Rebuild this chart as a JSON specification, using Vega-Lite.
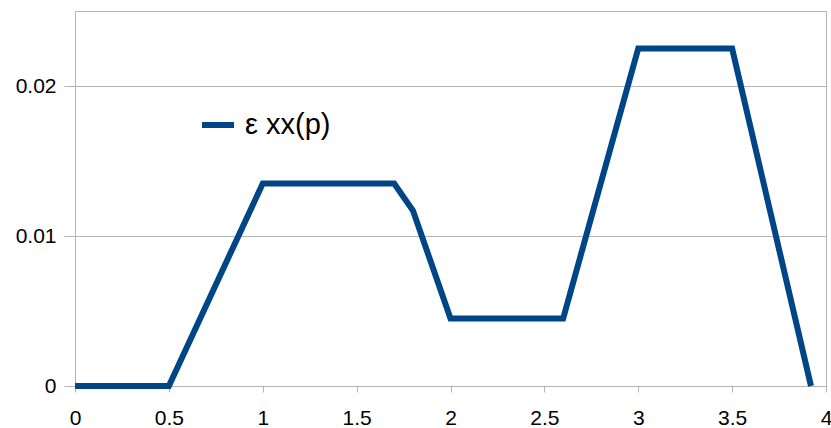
{
  "$schema": "https://vega.github.io/schema/vega-lite/v6.json",
  "width": 751,
  "height": 375,
  "autosize": {"type": "none"},
  "padding": {"left": 75, "top": 11, "right": 5, "bottom": 42},
  "background": "#ffffff",
  "config": {
    "font": "Liberation Sans",
    "view": {"stroke": "#b3b3b3", "strokeWidth": 1},
    "axis": {
      "labelFont": "Liberation Sans",
      "labelFontSize": 21,
      "labelColor": "#000000",
      "domainColor": "#b3b3b3",
      "tickColor": "#b3b3b3",
      "gridColor": "#b3b3b3",
      "title": null
    }
  },
  "data": {
    "values": [
      {"p": 0, "strain": 0, "series": "ε xx(p)"},
      {"p": 0.5, "strain": 0, "series": "ε xx(p)"},
      {"p": 1, "strain": 0.0135, "series": "ε xx(p)"},
      {"p": 1.7, "strain": 0.0135, "series": "ε xx(p)"},
      {"p": 1.8, "strain": 0.0117, "series": "ε xx(p)"},
      {"p": 2, "strain": 0.0045, "series": "ε xx(p)"},
      {"p": 2.6, "strain": 0.0045, "series": "ε xx(p)"},
      {"p": 3, "strain": 0.0225, "series": "ε xx(p)"},
      {"p": 3.5, "strain": 0.0225, "series": "ε xx(p)"},
      {"p": 3.92, "strain": 0, "series": "ε xx(p)"}
    ]
  },
  "mark": {"type": "line", "strokeWidth": 6, "strokeJoin": "miter", "clip": false},
  "encoding": {
    "x": {
      "field": "p",
      "type": "quantitative",
      "scale": {"domain": [0, 4], "nice": false, "zero": false},
      "axis": {
        "values": [0, 0.5, 1, 1.5, 2, 2.5, 3, 3.5, 4],
        "grid": false,
        "tickSize": 6,
        "labelPadding": 15,
        "labelFlush": false,
        "labelOverlap": false,
        "format": "~g"
      }
    },
    "y": {
      "field": "strain",
      "type": "quantitative",
      "scale": {"domain": [0, 0.025], "nice": false},
      "axis": {
        "values": [0, 0.01, 0.02],
        "grid": true,
        "domain": false,
        "tickSize": 11,
        "labelPadding": 8,
        "format": "~g"
      }
    },
    "color": {
      "field": "series",
      "type": "nominal",
      "scale": {"range": ["#004586"]},
      "legend": {
        "title": null,
        "orient": "none",
        "legendX": 124,
        "legendY": 95,
        "symbolType": "stroke",
        "symbolSize": 1024,
        "symbolStrokeWidth": 6,
        "labelFontSize": 29,
        "labelFont": "Liberation Sans",
        "labelColor": "#000000",
        "labelOffset": 8,
        "padding": 0
      }
    }
  }
}
